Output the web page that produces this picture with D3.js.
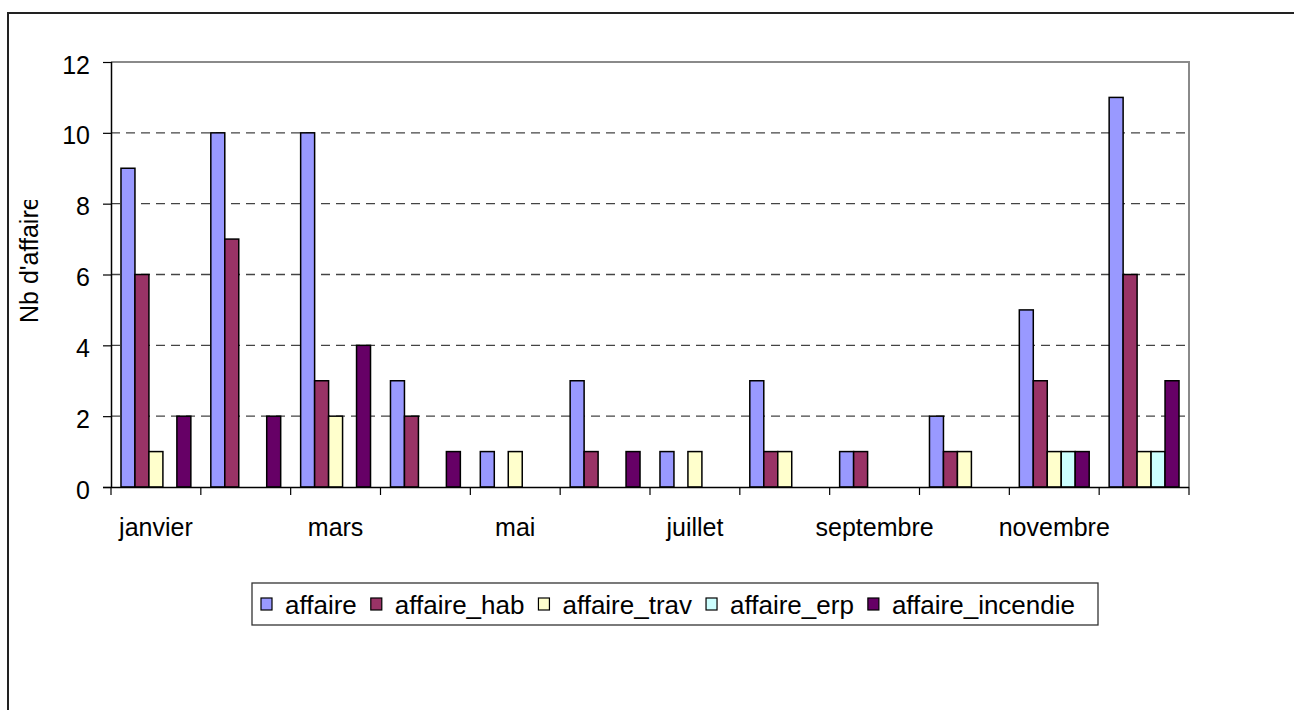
<!DOCTYPE html>
<html>
<head>
<meta charset="utf-8">
<script src="https://cdn.jsdelivr.net/npm/d3@7"></script>
<style>
  html, body { margin: 0; padding: 0; background: #fff; }
  svg { display: block; font-family: "Liberation Sans", Arial, sans-serif; }
</style>
</head>
<body>
<svg id="chart" width="1294" height="710"></svg>
<script>
// Monthly counts per case type
const months = ["janvier", "février", "mars", "avril", "mai", "juin",
  "juillet", "août", "septembre", "octobre", "novembre", "décembre"];
const affaire         = [9, 10, 10, 3, 1, 3, 1, 3, 1, 2, 5, 11];
const affaireHab      = [6, 7, 3, 2, 0, 1, 0, 1, 1, 1, 3, 6];
const affaireTrav     = [1, 0, 2, 0, 1, 0, 1, 1, 0, 1, 1, 1];
const affaireErp      = [0, 0, 0, 0, 0, 0, 0, 0, 0, 0, 1, 1];
const affaireIncendie = [2, 2, 4, 1, 0, 1, 0, 0, 0, 0, 1, 3];
const seriesNames = ["affaire", "affaire_hab", "affaire_trav", "affaire_erp", "affaire_incendie"];
const seriesColors = ["#9999FF", "#993366", "#FFFFCC", "#CCFFFF", "#660066"];
const yTicks = [0, 2, 4, 6, 8, 10, 12];
const yTitle = "Nb d'affaire";

const seriesValues = [affaire, affaireHab, affaireTrav, affaireErp, affaireIncendie];
const rows = months.map((m, i) => ({
  month: m,
  values: seriesNames.map((s, k) => ({ series: s, value: seriesValues[k][i], color: seriesColors[k] }))
}));

const svg = d3.select("#chart");

// outer chart frame (runs off the right and bottom edges)
svg.append("rect")
  .attr("x", 8).attr("y", 13).attr("width", 1320).attr("height", 740)
  .attr("fill", "none").attr("stroke", "#222").attr("stroke-width", 2);

const plot = { left: 111, right: 1189, top: 62, bottom: 487 };

const x = d3.scaleBand().domain(months).range([plot.left, plot.right]).padding(0);
const xs = d3.scaleBand().domain(seriesNames).range([0, x.bandwidth()])
  .paddingInner(0).paddingOuter(0.714);
const y = d3.scaleLinear().domain([0, 12]).range([plot.bottom, plot.top]);

// dashed gridlines
svg.append("g")
  .selectAll("line")
  .data(yTicks.filter(v => v > 0 && v < 12))
  .join("line")
  .attr("x1", plot.left).attr("x2", plot.right)
  .attr("y1", d => y(d)).attr("y2", d => y(d))
  .attr("stroke", "#444").attr("stroke-width", 1.4)
  .attr("stroke-dasharray", "9,6");

// plot-area border (top and right)
svg.append("path")
  .attr("d", `M${plot.left},${y(12)}H${plot.right}V${plot.bottom}`)
  .attr("fill", "none").attr("stroke", "#8a8a8a").attr("stroke-width", 2);

// bars
const groups = svg.append("g")
  .selectAll("g")
  .data(rows)
  .join("g")
  .attr("transform", d => `translate(${x(d.month)},0)`);

groups.selectAll("rect")
  .data(d => d.values.filter(v => v.value > 0))
  .join("rect")
  .attr("x", d => xs(d.series))
  .attr("width", xs.bandwidth())
  .attr("y", d => y(d.value))
  .attr("height", d => y(0) - y(d.value))
  .attr("fill", d => d.color)
  .attr("stroke", "#000").attr("stroke-width", 1.5);

// y axis
const yAxis = svg.append("g")
  .attr("transform", `translate(${plot.left},0)`)
  .call(d3.axisLeft(y).tickValues(yTicks).tickSize(8).tickPadding(13).tickFormat(d3.format("d")));
yAxis.select(".domain").attr("stroke", "#000").attr("stroke-width", 1.5)
  .attr("d", `M0.5,${plot.top}V${plot.bottom}`);
yAxis.selectAll(".tick line").attr("stroke", "#000").attr("stroke-width", 1.2);
yAxis.selectAll(".tick text")
  .attr("font-size", 25).attr("fill", "#000").attr("dy", "0.44em")
  .attr("font-family", "'Liberation Sans', Arial, sans-serif");

// x axis: labels every other month, ticks on category boundaries
const xAxis = svg.append("g")
  .attr("transform", `translate(0,${plot.bottom})`)
  .call(d3.axisBottom(x).tickSize(0).tickPadding(31)
    .tickFormat((d, i) => i % 2 === 0 ? d : ""));
xAxis.select(".domain").attr("stroke", "#000").attr("stroke-width", 1.5)
  .attr("d", `M${plot.left - 8},0.5H${plot.right}`);
xAxis.selectAll(".tick text")
  .attr("font-size", 25).attr("fill", "#000")
  .attr("font-family", "'Liberation Sans', Arial, sans-serif");

const boundaries = months.map(m => x(m)).concat([x(months[months.length - 1]) + x.bandwidth()]);
svg.append("g")
  .selectAll("line")
  .data(boundaries)
  .join("line")
  .attr("x1", d => d).attr("x2", d => d)
  .attr("y1", plot.bottom).attr("y2", plot.bottom + 8)
  .attr("stroke", "#000").attr("stroke-width", 1.2);

// y axis title, cut off at the top like the original layout
svg.append("defs").append("clipPath").attr("id", "ytitle-clip")
  .attr("clipPathUnits", "userSpaceOnUse")
  .append("rect").attr("x", 0).attr("y", 200).attr("width", 100).attr("height", 300);
svg.append("g")
  .attr("clip-path", "url(#ytitle-clip)")
  .append("text")
  .attr("transform", "translate(38,323) rotate(-90)")
  .attr("font-size", 25).attr("fill", "#000")
  .text(yTitle);

// legend
const legend = svg.append("g");
legend.append("rect")
  .attr("x", 252).attr("y", 583).attr("width", 846).attr("height", 42)
  .attr("fill", "#fff").attr("stroke", "#333").attr("stroke-width", 1.3);

let cx = 261;
seriesNames.forEach((s, k) => {
  legend.append("rect")
    .attr("x", cx).attr("y", 598).attr("width", 11).attr("height", 12)
    .attr("fill", seriesColors[k]).attr("stroke", "#000").attr("stroke-width", 1.2);
  const t = legend.append("text")
    .attr("x", cx + 24).attr("y", 614)
    .attr("font-size", 26).attr("fill", "#000")
    .text(s);
  cx = cx + 24 + t.node().getComputedTextLength() + 14;
});
</script>
</body>
</html>
